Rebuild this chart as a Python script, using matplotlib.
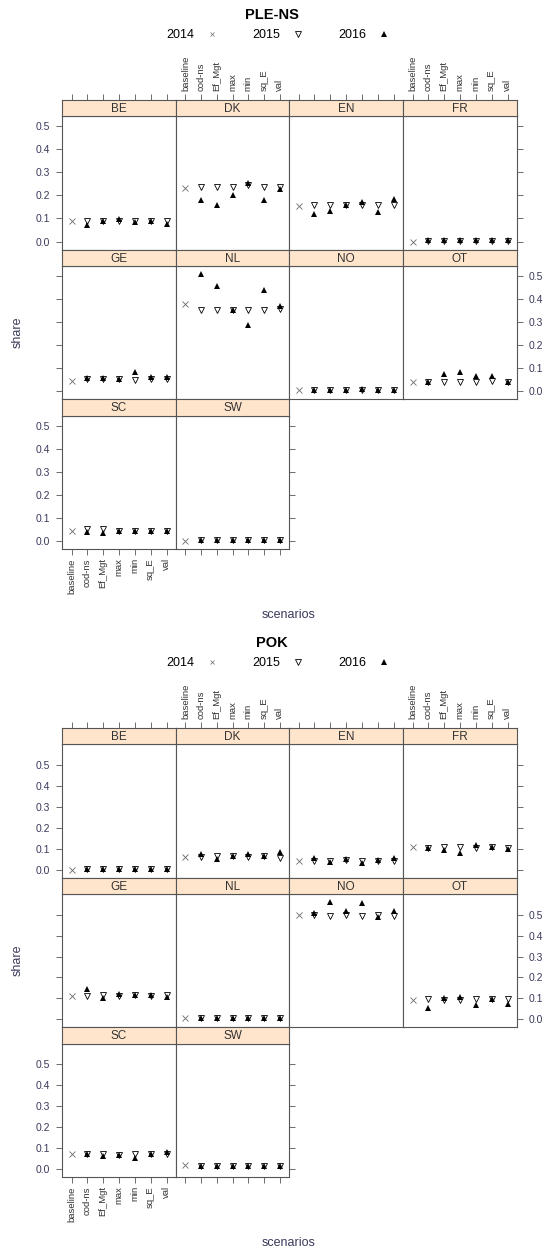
import numpy as np
import matplotlib
matplotlib.use("Agg")
import matplotlib.pyplot as plt
from matplotlib.lines import Line2D
from matplotlib import font_manager

plt.rcParams['font.family'] = ['Liberation Sans', 'DejaVu Sans']

regions = ["BE", "DK", "EN", "FR", "GE", "NL", "NO", "OT", "SC", "SW"]
scenarios = ["baseline", "cod-ns", "Ef_Mgt", "max", "min", "sq_E", "val"]

# PLE-NS: 2014 only has the baseline, 2015/2016 have the six other scenarios
ple_2014 = [0.087, 0.233, 0.153, 0.000, 0.046, 0.376, 0.007, 0.040, 0.043, 0.000]
ple_2015 = [
    [0.090, 0.090, 0.090, 0.090, 0.090, 0.090],  # BE
    [0.238, 0.238, 0.238, 0.243, 0.238, 0.238],  # DK
    [0.160, 0.160, 0.157, 0.157, 0.157, 0.160],  # EN
    [0.004, 0.004, 0.004, 0.004, 0.004, 0.004],  # FR
    [0.055, 0.055, 0.055, 0.050, 0.055, 0.055],  # GE
    [0.354, 0.354, 0.354, 0.354, 0.354, 0.357],  # NL
    [0.006, 0.006, 0.006, 0.006, 0.006, 0.006],  # NO
    [0.042, 0.039, 0.039, 0.039, 0.043, 0.040],  # OT
    [0.050, 0.050, 0.041, 0.041, 0.043, 0.043],  # SC
    [0.002, 0.002, 0.002, 0.002, 0.002, 0.002],  # SW
]
ple_2016 = [
    [0.070, 0.090, 0.097, 0.083, 0.090, 0.075],
    [0.178, 0.160, 0.203, 0.255, 0.178, 0.228],
    [0.121, 0.131, 0.160, 0.172, 0.128, 0.185],
    [0.005, 0.005, 0.005, 0.005, 0.005, 0.005],
    [0.058, 0.058, 0.055, 0.084, 0.063, 0.062],
    [0.507, 0.454, 0.354, 0.286, 0.440, 0.369],
    [0.007, 0.007, 0.007, 0.010, 0.007, 0.007],
    [0.040, 0.076, 0.083, 0.067, 0.067, 0.040],
    [0.039, 0.033, 0.041, 0.041, 0.042, 0.042],
    [0.002, 0.002, 0.002, 0.002, 0.002, 0.002],
]

# POK
pok_2014 = [0.000, 0.062, 0.043, 0.106, 0.110, 0.006, 0.500, 0.090, 0.069, 0.019]
pok_2015 = [
    [0.002, 0.002, 0.002, 0.002, 0.002, 0.002],
    [0.062, 0.067, 0.063, 0.059, 0.064, 0.056],
    [0.040, 0.043, 0.044, 0.040, 0.043, 0.040],
    [0.103, 0.106, 0.106, 0.103, 0.106, 0.103],
    [0.110, 0.118, 0.112, 0.114, 0.113, 0.114],
    [0.006, 0.006, 0.006, 0.006, 0.006, 0.006],
    [0.500, 0.495, 0.500, 0.495, 0.500, 0.495],
    [0.098, 0.090, 0.090, 0.098, 0.095, 0.098],
    [0.069, 0.071, 0.066, 0.071, 0.071, 0.069],
    [0.016, 0.016, 0.016, 0.016, 0.016, 0.016],
]
pok_2016 = [
    [0.003, 0.003, 0.003, 0.003, 0.003, 0.003],
    [0.072, 0.051, 0.065, 0.075, 0.066, 0.083],
    [0.056, 0.035, 0.050, 0.030, 0.046, 0.056],
    [0.103, 0.094, 0.078, 0.119, 0.106, 0.097],
    [0.145, 0.100, 0.121, 0.114, 0.118, 0.106],
    [0.006, 0.006, 0.006, 0.006, 0.006, 0.006],
    [0.510, 0.560, 0.520, 0.555, 0.490, 0.516],
    [0.055, 0.102, 0.106, 0.066, 0.095, 0.074],
    [0.069, 0.062, 0.066, 0.050, 0.071, 0.082],
    [0.016, 0.016, 0.016, 0.016, 0.016, 0.016],
]

W, H = 544, 1252
EDGE = '#555555'
AXTXT = '#3a3a5c'
STRIP = '#ffe5cc'

# scenario labels are very condensed in the original
names = {f.name for f in font_manager.fontManager.ttflist}
NARROW = 'Liberation Sans Narrow' if 'Liberation Sans Narrow' in names else 'Liberation Sans'
SC_SIZE = 7.5 if NARROW != 'Liberation Sans' else 6.8


def fx(px):
    return px / W


def fy(py):
    return 1 - py / H


def draw_chart(fig, y0, title, v14, v15, v16):
    col_x = [62, 176, 289, 403, 517]
    strip_h = 16.3
    row_h = 149.7
    top = y0 + 100

    allv = np.concatenate([np.array(v14), np.ravel(v15), np.ravel(v16)])
    lo, hi = allv.min(), allv.max()
    pad = 0.07 * (hi - lo)
    ylim = (lo - pad, hi + pad)
    x = np.arange(1, len(scenarios) + 1)
    xlim = (0.4, len(scenarios) + 0.6)
    yt = [0.0, 0.1, 0.2, 0.3, 0.4, 0.5]

    for i, reg in enumerate(regions):
        r, c = divmod(i, 4)
        st = top + r * row_h
        w = fx(col_x[c + 1] - col_x[c])
        ax = fig.add_axes([fx(col_x[c]), fy(st + row_h), w, (row_h - strip_h) / H])
        sax = fig.add_axes([fx(col_x[c]), fy(st + strip_h), w, strip_h / H])

        ax.plot([x[0]], [v14[i]], linestyle='none', marker='x', ms=3.8,
                mew=0.6, color='#6a6a6a')
        ax.plot(x[1:], v15[i], linestyle='none', marker='v', ms=4.7,
                mfc='white', mec='black', mew=0.6)
        ax.plot(x[1:], v16[i], linestyle='none', marker='^', ms=4.7,
                color='black', mew=0)
        ax.set_xlim(xlim)
        ax.set_ylim(ylim)

        last_col = 3 if r < 2 else 1
        left = c == 0
        right = c == last_col
        ax.set_yticks(yt)
        ax.set_yticklabels([f"{v:.1f}" for v in yt])
        ax.tick_params(axis='y', direction='out', length=4.5, width=0.6,
                       colors=EDGE, labelcolor=AXTXT, labelsize=7.5, pad=4,
                       left=left, right=right,
                       labelleft=left and r != 1,
                       labelright=right and r == 1)
        ax.set_xticks(x)
        ax.set_xticklabels(scenarios, rotation=90, fontsize=SC_SIZE, family=NARROW)
        ax.tick_params(axis='x', direction='out', length=4.5, width=0.6,
                       colors=EDGE, labelcolor='#333333', pad=2,
                       bottom=(r == 2), labelbottom=(r == 2 and c == 0),
                       top=False, labeltop=False)
        for s in ax.spines.values():
            s.set_color(EDGE)
            s.set_linewidth(0.8)

        sax.set_facecolor(STRIP)
        sax.set_xlim(xlim)
        sax.set_yticks([])
        sax.set_xticks(x)
        sax.set_xticklabels(scenarios, rotation=90, fontsize=SC_SIZE, family=NARROW)
        sax.tick_params(axis='x', direction='out', length=4.5, width=0.6,
                        colors=EDGE, labelcolor='#333333', pad=2,
                        bottom=False, labelbottom=False,
                        top=(r == 0), labeltop=(r == 0 and c % 2 == 1))
        for s in sax.spines.values():
            s.set_color(EDGE)
            s.set_linewidth(0.8)
        sax.text(0.5, 0.45, reg, transform=sax.transAxes, ha='center',
                 va='center', fontsize=8.5, color='#333333')

    fig.text(fx(272), fy(y0 + 15), title, ha='center', va='center',
             fontsize=10.5, fontweight='bold')
    handles = [
        Line2D([], [], linestyle='none', marker='x', ms=3.4, mew=0.5, color='#6a6a6a'),
        Line2D([], [], linestyle='none', marker='v', ms=4, mfc='white', mec='black', mew=0.6),
        Line2D([], [], linestyle='none', marker='^', ms=4, color='black', mew=0),
    ]
    fig.legend(handles, ["2014", "2015", "2016"], ncol=3, markerfirst=False,
               frameon=False, loc='center', bbox_to_anchor=(fx(278), fy(y0 + 35)),
               fontsize=9, handlelength=1, handletextpad=0.9,
               columnspacing=2.75, borderpad=0)
    fig.text(fx(18), fy(y0 + 332), "share", rotation=90, ha='center',
             va='center', fontsize=9, color=AXTXT)
    fig.text(fx(289), fy(y0 + 615), "scenarios", ha='center', va='center',
             fontsize=9, color=AXTXT)


fig = plt.figure(figsize=(W / 100, H / 100), dpi=100)
draw_chart(fig, 0, "PLE-NS", ple_2014, ple_2015, ple_2016)
draw_chart(fig, 628, "POK", pok_2014, pok_2015, pok_2016)
fig.savefig("out.png", dpi=100)
